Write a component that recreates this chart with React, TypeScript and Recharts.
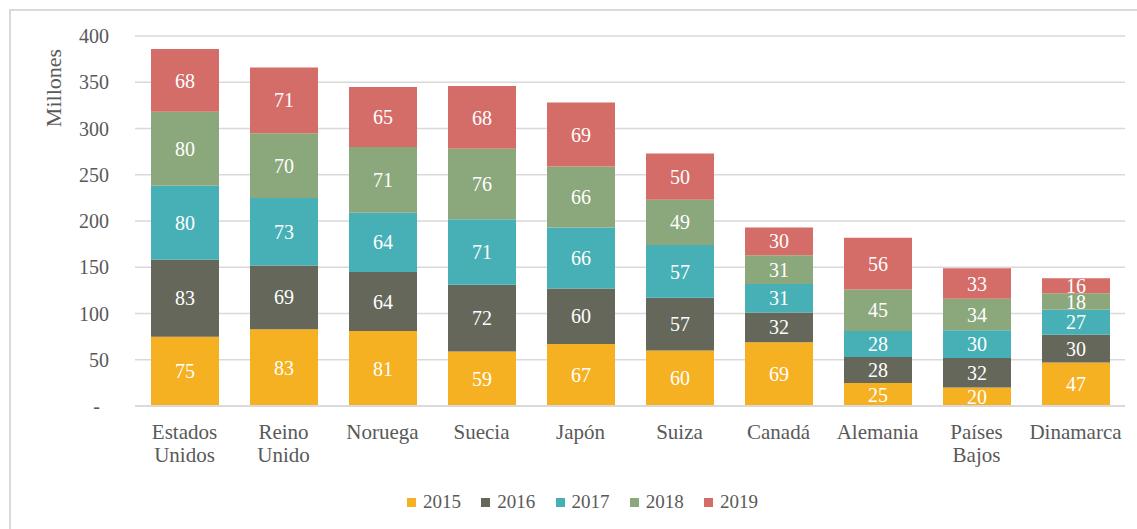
import React from 'react';
import { BarChart, Bar, XAxis, YAxis, CartesianGrid, LabelList, Legend, Label } from 'recharts';

const categories = ['Estados Unidos', 'Reino Unido', 'Noruega', 'Suecia', 'Japón', 'Suiza', 'Canadá', 'Alemania', 'Países Bajos', 'Dinamarca'];
const v2015 = [75, 83, 81, 59, 67, 60, 69, 25, 20, 47];
const v2016 = [83, 69, 64, 72, 60, 57, 32, 28, 32, 30];
const v2017 = [80, 73, 64, 71, 66, 57, 31, 28, 30, 27];
const v2018 = [80, 70, 71, 76, 66, 49, 31, 45, 34, 18];
const v2019 = [68, 71, 65, 68, 69, 50, 30, 56, 33, 16];
const years = ['2015', '2016', '2017', '2018', '2019'];
const colors = ['#F5B122', '#64675A', '#47B0B6', '#8BA87C', '#D46C68'];
const yTicks = [0, 50, 100, 150, 200, 250, 300, 350, 400];

const series = [v2015, v2016, v2017, v2018, v2019];
const data = categories.map((c, i) => {
  const row: any = { name: c };
  years.forEach((y, k) => { row[y] = series[k][i]; });
  return row;
});

const FONT = '"Liberation Serif", "Times New Roman", serif';
const GRAY = '#595959';

const YTick = (props: any) => {
  const { x, y, payload } = props;
  const isZero = payload.value === 0;
  return (
    <text x={isZero ? x - 9 : x} y={y} dy="0.35em" textAnchor="end" fill={GRAY} fontSize={20} fontFamily={FONT}>
      {isZero ? '-' : payload.value}
    </text>
  );
};

const XTick = (props: any) => {
  const { x, y, payload } = props;
  const lines = String(payload.value).split(' ');
  return (
    <text x={x} y={y} textAnchor="middle" fill={GRAY} fontSize={21} fontFamily={FONT}>
      {lines.map((l, i) => (
        <tspan key={i} x={x} dy={i === 0 ? 25 : 23}>{l}</tspan>
      ))}
    </text>
  );
};

const LegendContent = () => (
  <div style={{ height: 24, display: 'flex', alignItems: 'center', paddingLeft: 407, fontFamily: FONT, fontSize: 19, color: GRAY }}>
    {years.map((y, i) => (
      <div key={y} style={{ width: 74.25, display: 'flex', alignItems: 'center', flex: 'none' }}>
        <span style={{ width: 9, height: 9, background: colors[i], display: 'inline-block', marginRight: 7 }} />
        <span>{y}</span>
      </div>
    ))}
  </div>
);

export default function App() {
  return (
    <div style={{ position: 'absolute', left: 0, top: 0, width: 1137, height: 529, overflow: 'hidden', background: '#fff' }}>
      <div style={{ position: 'absolute', left: 9, top: 9, width: 1200, height: 600, border: '2px solid #d9d9d9' }} />
      <div style={{ position: 'absolute', left: 0, top: 0 }}>
        <BarChart width={1137} height={529} data={data} margin={{ top: 36, right: 12, bottom: 39, left: 0 }}>
          <CartesianGrid vertical={false} stroke="#d9d9d9" strokeWidth={1.5} />
          <XAxis dataKey="name" height={60} tickLine={false} axisLine={{ stroke: '#d9d9d9', strokeWidth: 2 }} tick={<XTick />} interval={0} />
          <YAxis width={135} domain={[0, 400]} ticks={yTicks} tickLine={false} axisLine={false} tick={<YTick />} tickMargin={20} interval={0}>
            <Label content={() => (
              <text x={53} y={88} transform="rotate(-90 53 88)" textAnchor="middle" dominantBaseline="central" fill={GRAY} fontSize={22} fontFamily={FONT}>Millones</text>
            )} />
          </YAxis>
          <Legend verticalAlign="bottom" content={<LegendContent />} wrapperStyle={{ top: 490, bottom: 'auto', left: 0, width: 1137 }} />
          {years.map((y, i) => (
            <Bar key={y} dataKey={y} stackId="a" fill={colors[i]} barSize={68} isAnimationActive={false}>
              <LabelList dataKey={y} position="center" fill="#ffffff" fontSize={20} fontFamily={FONT} />
            </Bar>
          ))}
        </BarChart>
      </div>
    </div>
  );
}
